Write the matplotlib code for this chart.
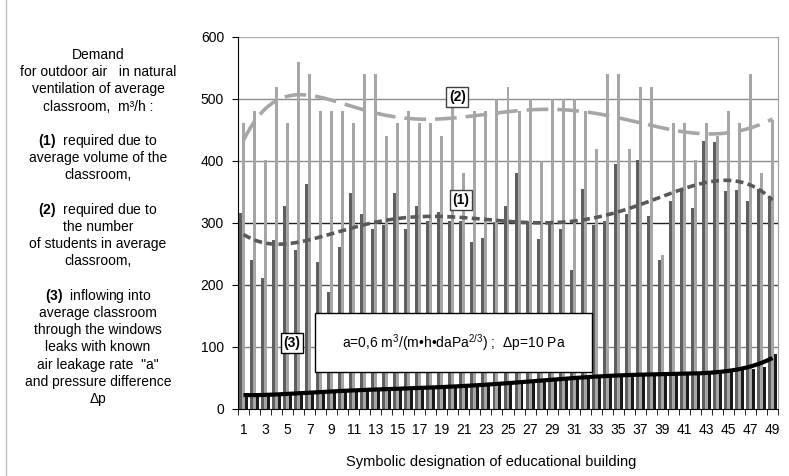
import numpy as np
import matplotlib.pyplot as plt
from matplotlib.patches import Rectangle
from matplotlib.lines import Line2D

plt.rcParams['font.family'] = ['Liberation Sans', 'DejaVu Sans']
plt.rcParams['mathtext.fontset'] = 'custom'
plt.rcParams['mathtext.rm'] = 'Liberation Sans'
plt.rcParams['mathtext.bf'] = 'Liberation Sans:bold'

# building numbers 1..49
buildings = list(range(1, 50))

# (1) required due to average volume of the classroom, m3/h
by_volume = [316, 240, 212, 272, 328, 257, 363, 237, 189, 262,
             348, 315, 290, 297, 348, 291, 327, 303, 317, 303,
             303, 270, 276, 301, 328, 381, 301, 275, 301, 291,
             225, 355, 297, 303, 395, 314, 401, 312, 240, 336,
             352, 324, 432, 431, 352, 353, 335, 355, 343]

# (2) required due to number of students, m3/h
by_students = [461, 480, 401, 520, 461, 560, 541, 480, 480, 480,
               461, 541, 541, 440, 461, 480, 461, 461, 440, 500,
               380, 480, 480, 500, 520, 480, 500, 400, 500, 500,
               500, 480, 420, 541, 541, 420, 520, 520, 249, 461,
               461, 401, 461, 440, 480, 461, 541, 380, 466]

# (3) infiltration through window leaks, m3/h
by_leaks = [22, 22, 23, 24, 25, 26, 27, 27, 28, 29,
            30, 30, 31, 31, 32, 33, 34, 35, 36, 37,
            38, 39, 40, 41, 42, 43, 44, 45, 47, 48,
            49, 51, 52, 53, 54, 55, 55, 56, 56, 57,
            58, 58, 59, 60, 62, 66, 65, 68, 88]

x = np.array(buildings, dtype=float)
w = 0.27

fig = plt.figure(figsize=(7.89, 4.76), dpi=100)
ax = fig.add_axes([238 / 789, 1 - 409 / 476, 540 / 789, 372 / 476])

# gridlines render in slightly different greys in the original
grid_cols = {100: '#808080', 200: '#505050', 300: '#202020',
             400: '#8c8c8c', 500: '#8c8c8c', 600: '#b0b0b0'}
for yv, c in grid_cols.items():
    ax.axhline(yv, color=c, lw=1, zorder=0)

ax.bar(x - w, by_volume, width=w, color='#5f5f5f', zorder=2)
ax.bar(x, by_students, width=w, color='#a6a6a6', zorder=2)
ax.bar(x + w, by_leaks, width=w, color='#1a1a1a', zorder=2)

# polynomial trend lines, as in the original spreadsheet
xs = np.linspace(1, 49, 300)
for vals, col, dash, lw in [(by_students, '#a6a6a6', (6, 2.5), 2.6),
                            (by_volume, '#595959', (2.2, 1.2), 2.6),
                            (by_leaks, '#000000', None, 3.0)]:
    coef = np.polyfit(x, vals, 6)
    ln, = ax.plot(xs, np.polyval(coef, xs), color=col, lw=lw, zorder=3,
                  solid_capstyle='butt', dash_capstyle='butt')
    if dash:
        ln.set_dashes(dash)

ax.set_xlim(0.5, 49.5)
ax.set_ylim(0, 600)
ax.set_yticks(range(0, 700, 100))
ax.set_xticks(x[::2])
ax.set_xticklabels([str(b) for b in buildings[::2]])
ax.set_xticks(np.arange(0.5, 50, 1), minor=True)
ax.tick_params(axis='x', which='major', length=0, pad=10, labelsize=10)
ax.tick_params(axis='x', which='minor', length=4, direction='out')
ax.tick_params(axis='y', length=4, pad=6, labelsize=10)
ax.spines['top'].set_visible(False)
ax.spines['right'].set_color('#a0a0a0')
ax.spines['left'].set_color('black')
ax.spines['bottom'].set_color('black')

# annotation boxes
ax.add_patch(Rectangle((0.143, 0.0995), 0.513, 0.159, transform=ax.transAxes,
                       facecolor='white', edgecolor='black', lw=1, zorder=5))
ax.text(0.40, 0.178, r'a=0,6 m$^{3}$/(m•h•daPa$^{2/3}$) ;  Δp=10 Pa',
        transform=ax.transAxes, ha='center', va='center', fontsize=10, zorder=6)
ax.text(0.100, 0.177, '(3)', transform=ax.transAxes, ha='center', va='center',
        fontsize=10, fontweight='bold', zorder=6,
        bbox=dict(facecolor='white', edgecolor='black', lw=1, pad=2))
ax.text(0.406, 0.839, '(2)', transform=ax.transAxes, ha='center', va='center',
        fontsize=10, fontweight='bold', zorder=6,
        bbox=dict(facecolor='white', edgecolor='#404040', lw=1, pad=2))
ax.text(0.413, 0.562, '(1)', transform=ax.transAxes, ha='center', va='center',
        fontsize=10, fontweight='bold', zorder=6,
        bbox=dict(facecolor='white', edgecolor='#404040', lw=1, pad=2))

fig.text(491 / 789, 1 - 462 / 476, 'Symbolic designation of educational building',
         ha='center', va='center', fontsize=10.5)

# left-hand description
lines = ['Demand',
         'for outdoor air   in natural',
         'ventilation of average',
         'classroom,  m³/h :',
         '',
         r'$\mathbf{(1)}$  required due to',
         'average volume of the',
         'classroom,',
         '',
         r'$\mathbf{(2)}$  required due to',
         'the number',
         'of students in average',
         'classroom,',
         '',
         r'$\mathbf{(3)}$  inflowing into',
         'average classroom',
         'through the windows',
         'leaks with known',
         'air leakage rate  "a"',
         'and pressure difference',
         'Δp']
for i, s in enumerate(lines):
    if s:
        fig.text(98 / 789, 1 - (55 + i * 17.2) / 476, s, ha='center',
                 va='center', fontsize=10)

fig.add_artist(Line2D([6 / 789, 6 / 789], [0, 1], transform=fig.transFigure,
                      color='#c0c0c0', lw=1))

fig.savefig('out.png', dpi=100)
